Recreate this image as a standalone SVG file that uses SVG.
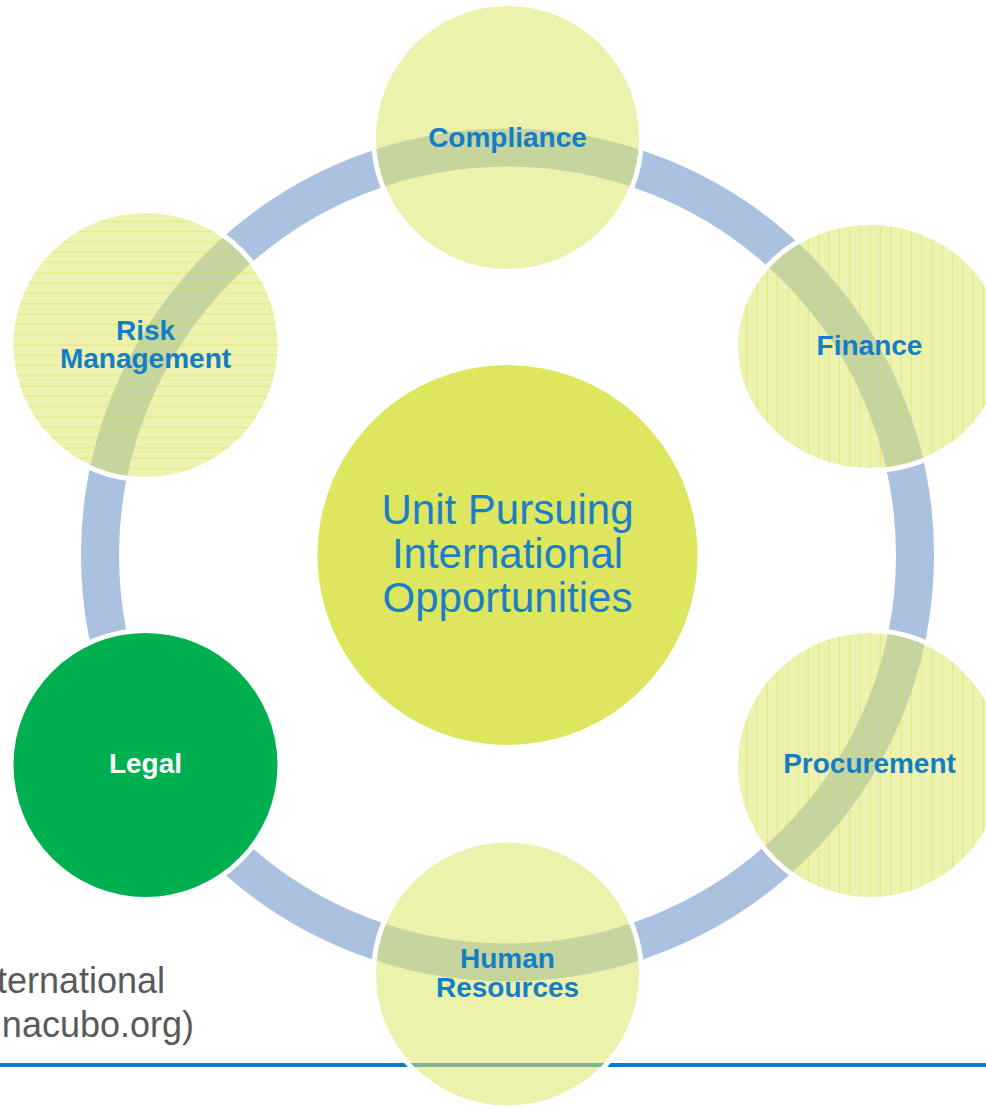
<svg xmlns="http://www.w3.org/2000/svg" width="986" height="1109" viewBox="0 0 986 1109">
  <style>
    .gap { fill: none; stroke: #ffffff; stroke-width: 5; }
    .node { fill: #DEE668; fill-opacity: 0.52; }
    .lbl { font-family: "Liberation Sans", Arial, sans-serif; font-weight: bold; font-size: 28px; fill: #137DC5; text-anchor: middle; }
    .ctr { font-family: "Liberation Sans", Arial, sans-serif; font-size: 42px; fill: #1A7FC6; text-anchor: middle; }
    .src { font-family: "Liberation Sans", Arial, sans-serif; font-size: 36px; fill: #595959; text-anchor: end; }
  </style>
  <defs>
    <pattern id="hlines" patternUnits="userSpaceOnUse" width="20" height="10.3">
      <line x1="0" y1="5" x2="20" y2="5" stroke="#D6DD48" stroke-width="1" stroke-opacity="0.55"/>
    </pattern>
    <pattern id="vlines" patternUnits="userSpaceOnUse" width="10.3" height="20">
      <line x1="5" y1="0" x2="5" y2="20" stroke="#D6DD48" stroke-width="1" stroke-opacity="0.55"/>
    </pattern>
    <pattern id="hatch" patternUnits="userSpaceOnUse" width="4" height="4">
      <path d="M0,4 L4,0" stroke="#D6DD48" stroke-width="0.6" stroke-opacity="0.25"/>
    </pattern>
  </defs>
  <rect x="0" y="0" width="986" height="1109" fill="#ffffff"/>

  <g id="source-text">
    <text class="src" x="165" y="993">ternational</text>
    <text class="src" x="194" y="1037">nacubo.org)</text>
  </g>
  <rect id="rule" x="0" y="1063" width="986" height="4" fill="#0F7DC2"/>

  <g id="connectors">
    <circle cx="507.5" cy="555" r="407.5" fill="none" stroke="#AAC2E0" stroke-width="38"/>
  </g>

  <g id="center">
    <circle cx="507.5" cy="555" r="190" fill="#DEE55F"/>
    <text class="ctr" x="507.5" y="524">Unit Pursuing</text>
    <text class="ctr" x="507.5" y="568">International</text>
    <text class="ctr" x="507.5" y="612">Opportunities</text>
  </g>

  <g id="compliance">
    <circle class="gap" cx="507.5" cy="137.5" r="134"/>
    <circle class="node" cx="507.5" cy="137.5" r="131.5"/>
    <circle cx="507.5" cy="137.5" r="131.5" fill="url(#hatch)"/>
    <text class="lbl" x="507.5" y="147">Compliance</text>
  </g>

  <g id="finance">
    <ellipse class="gap" cx="870" cy="346.5" rx="134.5" ry="124"/>
    <ellipse class="node" cx="870" cy="346.5" rx="132" ry="121.5"/>
    <ellipse cx="870" cy="346.5" rx="132" ry="121.5" fill="url(#vlines)"/>
    <text class="lbl" x="869.5" y="355">Finance</text>
  </g>

  <g id="procurement">
    <circle class="gap" cx="870" cy="765" r="134.5"/>
    <circle class="node" cx="870" cy="765" r="132"/>
    <circle cx="870" cy="765" r="132" fill="url(#vlines)"/>
    <text class="lbl" x="869.5" y="773">Procurement</text>
  </g>

  <g id="human-resources">
    <circle class="gap" cx="507.5" cy="974" r="134"/>
    <circle class="node" cx="507.5" cy="974" r="131.5"/>
    <circle cx="507.5" cy="974" r="131.5" fill="url(#hatch)"/>
    <text class="lbl" x="507.5" y="968">Human</text>
    <text class="lbl" x="507.5" y="997">Resources</text>
  </g>

  <g id="legal">
    <circle class="gap" cx="145.5" cy="765" r="134.5"/>
    <circle cx="145.5" cy="765" r="132" fill="#00B050"/>
    <text class="lbl" x="145.5" y="773" style="fill:#ffffff">Legal</text>
  </g>

  <g id="risk-management">
    <circle class="gap" cx="145.5" cy="345" r="134.5"/>
    <circle class="node" cx="145.5" cy="345" r="132"/>
    <circle cx="145.5" cy="345" r="132" fill="url(#hlines)"/>
    <text class="lbl" x="145.5" y="340">Risk</text>
    <text class="lbl" x="145.5" y="368">Management</text>
  </g>
</svg>
